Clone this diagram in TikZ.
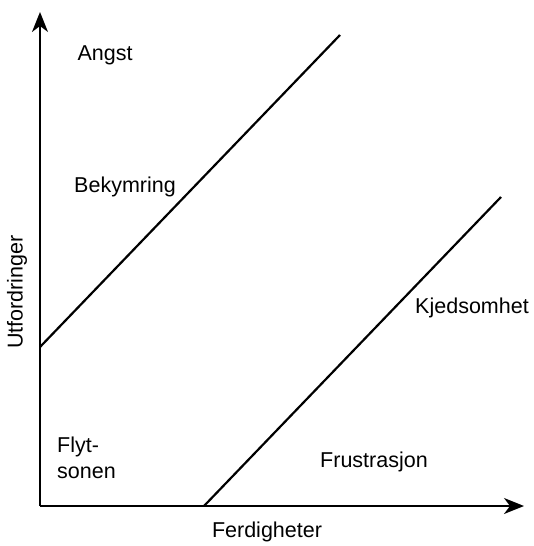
\documentclass[tikz,border=0pt]{standalone}
\usepackage{fontspec}
\setmainfont{Liberation Sans}
\usetikzlibrary{arrows.meta}
\begin{document}
\begin{tikzpicture}[x=1pt,y=-1pt,
  axis/.style={line width=2pt,-{Stealth[length=20pt,width=16pt,inset=6pt]}},
  zone/.style={line width=2.2pt},
  lbl/.style={font=\fontsize{21.5}{26}\selectfont,inner sep=0pt}]
\useasboundingbox (0,0) rectangle (533,546);
\coordinate (O) at (40,506);
\coordinate (Ytip) at (40,12);
\coordinate (Xtip) at (524,506);
\draw[axis] (O) -- (Ytip);
\draw[axis] (O) -- (Xtip);
\coordinate (a1) at (40,347);
\coordinate (a2) at (340,35);
\coordinate (b1) at (204,506);
\coordinate (b2) at (501,197);
\draw[zone] (a1) -- (a2);
\draw[zone] (b1) -- (b2);
\node[lbl] (angst) at (105,55) {Angst};
\node[lbl] (bek) at (125,187) {Bekymring};
\node[lbl] (kjed) at (472,308) {Kjedsomhet};
\node[lbl,anchor=west,align=left] (flyt) at (57,458) {Flyt-\\sonen};
\node[lbl] (frus) at (374,462) {Frustrasjon};
\node[lbl] (ferd) at (267,532) {Ferdigheter};
\node[lbl,rotate=90] (utf) at (17,292) {Utfordringer};
\end{tikzpicture}
\end{document}
